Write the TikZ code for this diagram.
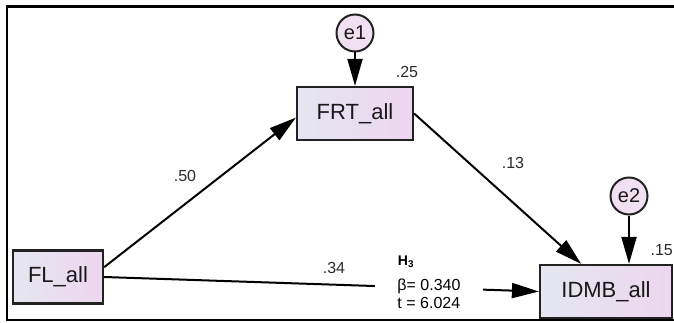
\documentclass[tikz,border=0pt]{standalone}
\usepackage{fontspec}
\setmainfont{Liberation Sans}
\usetikzlibrary{arrows.meta,calc}
\definecolor{boxL}{HTML}{E4E6F0}
\definecolor{boxR}{HTML}{EED6F0}
\definecolor{circ}{HTML}{F0E0F2}
\definecolor{edge}{HTML}{222222}
\definecolor{lbl}{HTML}{2A2A2A}
\tikzset{
  var/.style={draw=edge, line width=2.2pt, left color=boxL, right color=boxR,
    minimum height=53pt, inner sep=0pt, font=\fontsize{22}{22}\selectfont, text=black!90},
  err/.style={circle, draw=edge, line width=2pt, fill=circ, minimum size=37pt, inner sep=0pt,
    font=\fontsize{20}{20}\selectfont, text=black!90},
  path/.style={line width=2pt, -{Triangle[length=27pt,width=15pt]}},
  coef/.style={font=\fontsize{16}{16}\selectfont, text=lbl},
}
\begin{document}
\begin{tikzpicture}[x=1pt,y=-1pt]
\useasboundingbox (0,0) rectangle (674,323);
\clip (0,0) rectangle (674,323);
\draw[line width=2.8pt] (700,6.5) -- (7,6.5) -- (7,320) -- (700,320);
% variables
\node[var, minimum width=90pt] (FL) at (58,277) {FL\_all};
\node[var, minimum width=116pt] (FRT) at (355,113.5) {FRT\_all};
\node[var, minimum width=132pt] (IDMB) at (606,291.5) {IDMB\_all};
\node[err] (e1) at (355,33) {e1};
\node[err] (e2) at (629,196) {e2};
% paths
\draw[path] (e1) -- (FRT.north);
\draw[path] (e2) -- (e2 |- IDMB.north);
\draw[path] (FL.12) -- (FRT.184);
\draw[path] (FRT.east) -- (IDMB.132);
\draw[path] (FL.east) -- (IDMB.west);
% labels
\node[coef] (c25) at (407,72) {.25};
\node[coef, anchor=east, inner xsep=1pt] (c15) at (674,250) {.15};
\node[coef] (c50) at (185,176) {.50};
\node[coef] (c13) at (513,163) {.13};
\node[coef] (c34) at (334,268) {.34};
\node[font=\bfseries\fontsize{14}{14}\selectfont] (h3) at (406,262) {H\textsubscript{3}};
\node[fill=white, inner xsep=22pt, inner ysep=3pt, align=left,
      font=\fontsize{16}{18.5}\selectfont] (stat) at (429,294) {β= 0.340\\t = 6.024};
\end{tikzpicture}
\end{document}
